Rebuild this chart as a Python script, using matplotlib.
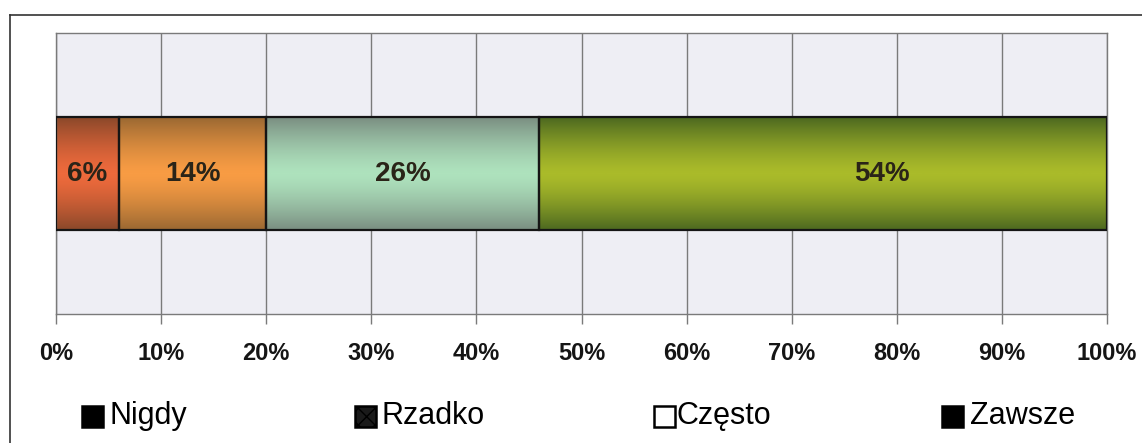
import numpy as np
import matplotlib
matplotlib.use("Agg")
import matplotlib.pyplot as plt
from matplotlib.colors import LinearSegmentedColormap
from matplotlib.patches import Rectangle
from matplotlib.lines import Line2D

plt.rcParams["font.family"] = ["Liberation Sans", "DejaVu Sans"]

# ── Data ─────────────────────────────────────────────────────────────────────
categories = ["Nigdy", "Rzadko", "Często", "Zawsze"]
shares     = [6, 14, 26, 54]
x_ticks    = [0, 10, 20, 30, 40, 50, 60, 70, 80, 90, 100]

# edge (dark) / centre (light) colours of each segment
EDGE   = ["#8a482a", "#9a6832", "#7a8e81", "#4c6820"]
CENTRE = ["#ee6a3c", "#f89c44", "#aee2bd", "#aabb2a"]
PLOT_BG = "#eeeef4"
GRID    = "#7a7a7a"
INK     = "#151515"

fig = plt.figure(figsize=(11.42, 4.43), dpi=100)
fig.patch.set_facecolor("white")
ax = fig.add_axes([0.049, 0.2912, 0.9204, 0.6343])
ax.set_facecolor(PLOT_BG)
ax.set_xlim(0, 100)
ax.set_ylim(0, 1)

# vertical gridlines
for t in x_ticks:
    ax.axvline(t, color=GRID, lw=1.0, zorder=1)

# stacked bar with a vertical light-in-the-middle gradient
y0, h = 0.30, 0.40
grad = np.abs(np.linspace(-1, 1, 256)) ** 1.4
grad = grad.reshape(-1, 1)
left = 0
for i, v in enumerate(shares):
    cmap = LinearSegmentedColormap.from_list(f"seg{i}", [CENTRE[i], EDGE[i]])
    ax.imshow(grad, cmap=cmap, aspect="auto", interpolation="bilinear",
              extent=(left, left + v, y0, y0 + h), origin="lower", zorder=2)
    ax.add_patch(Rectangle((left, y0), v, h, fill=False, ec=INK, lw=1.6, zorder=3))
    left += v

# value labels
label_shift = [0, 0, 0, 5.6]
left = 0
for v, dx in zip(shares, label_shift):
    ax.text(left + v / 2 + dx, y0 + h / 2, f"{v}%", ha="center", va="center",
            fontsize=20, fontweight="bold", color="#2a2418", zorder=4)
    left += v

ax.set_xticks(x_ticks)
ax.set_xticklabels([f"{t}%" for t in x_ticks], fontsize=17, fontweight="bold", color=INK)
ax.set_yticks([])
ax.tick_params(axis="x", length=7, width=1, color=GRID, pad=13)
for s in ax.spines.values():
    s.set_color(GRID)
    s.set_linewidth(1.0)

# legend drawn as swatch + label pairs
W, H = 1142, 443
swatch_x = [82, 355, 654, 942]
text_x   = [110, 382, 677, 970]
sw_face  = ["#000000", "#1a1a1a", "white", "#000000"]
for i, name in enumerate(categories):
    r = Rectangle((swatch_x[i] / W, (H - 427) / H), 21 / W, 21 / H,
                  transform=fig.transFigure, fc=sw_face[i], ec="black", lw=1.8,
                  hatch="xx" if i == 1 else None)
    fig.add_artist(r)
    fig.text(text_x[i] / W, (H - 416) / H, name, fontsize=22, color="black",
             ha="left", va="center")

# outer frame (top and left edge)
fig.add_artist(Line2D([10 / W, 1.0], [(H - 15) / H] * 2, transform=fig.transFigure,
                      color="#333333", lw=1.2))
fig.add_artist(Line2D([10 / W] * 2, [0, (H - 15) / H], transform=fig.transFigure,
                      color="#333333", lw=1.2))

fig.savefig("out.png", dpi=100)
